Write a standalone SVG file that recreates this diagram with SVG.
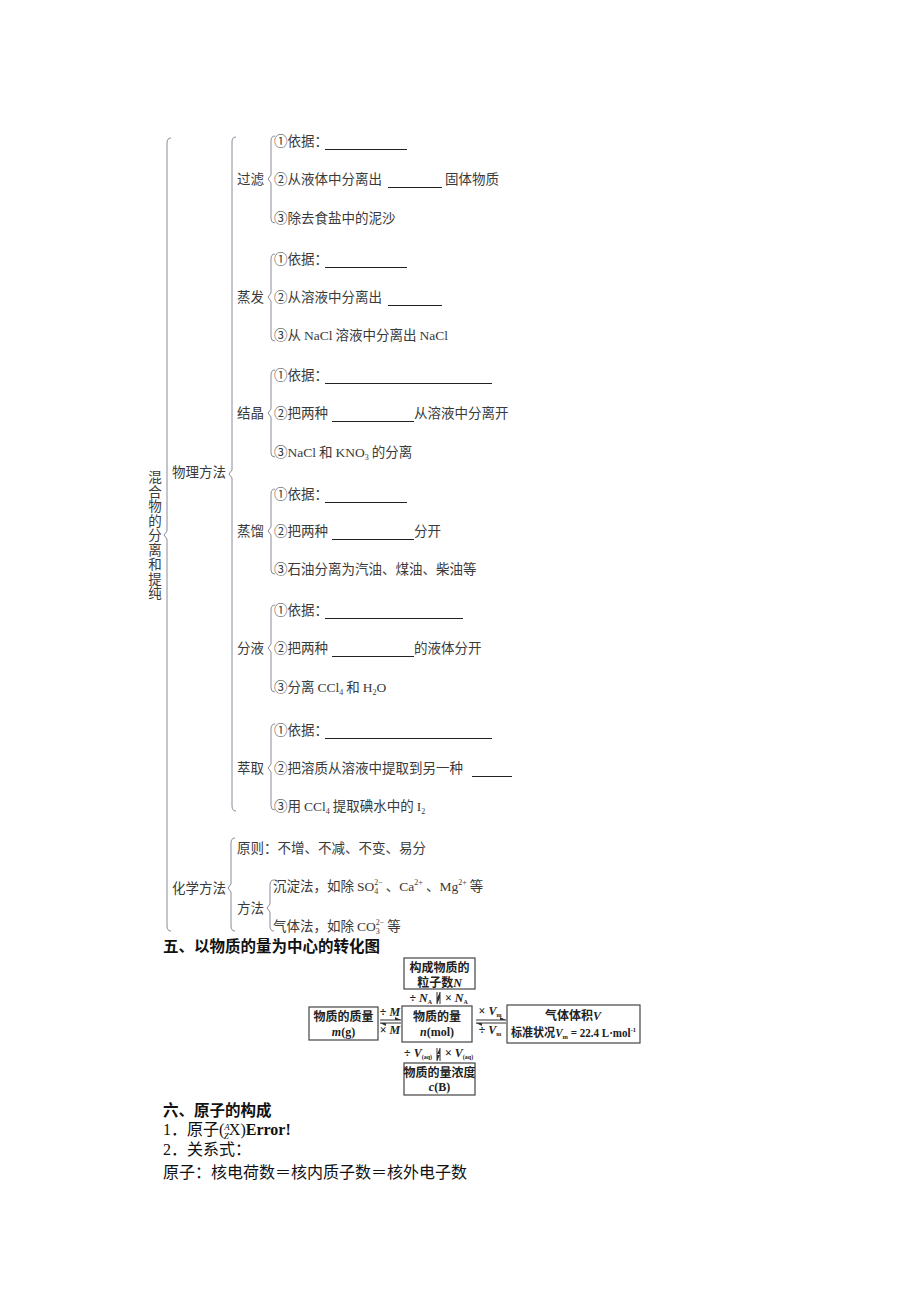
<svg xmlns="http://www.w3.org/2000/svg" width="920" height="1302" viewBox="0 0 920 1302">
<style>
.t{font-family:"Noto Sans CJK SC","Noto Sans",sans-serif;font-size:13.5px;fill:#3a3a3a}
.l{font-family:"Liberation Serif","Noto Sans CJK SC",serif}
.br{fill:none;stroke:#8a8a9a;stroke-width:1}
.ul{stroke:#222;stroke-width:1}
.h{font-family:"Noto Sans CJK SC",sans-serif;font-size:15.5px;font-weight:bold;fill:#111}
.s{font-family:"Liberation Serif","Noto Sans CJK SC",serif;font-size:16px;fill:#111}
.bx{fill:#fff;stroke:#444;stroke-width:1.2}
.b{font-family:"Liberation Serif","Noto Sans CJK SC",serif;font-size:12px;font-weight:bold;fill:#222}
.ar{stroke:#333;stroke-width:1;fill:none}
</style>
<defs>
<marker id="hr" markerWidth="6" markerHeight="4" refX="6" refY="3" orient="auto" markerUnits="userSpaceOnUse"><path d="M0,0 L6,3 L0,3 Z" fill="#333"/></marker>
</defs>

<g id="braces">
<path class="br" d="M171,138 Q167,138 167,143 L167,531 L164,535 L167,539 L167,926 Q167,931 171,931"/>
<path class="br" d="M236,137 Q232,137 232,142 L232,470 L229,474 L232,478 L232,806 Q232,811 236,811"/>
<path class="br" d="M275,136 Q271,136 271,141 L271,175 L268,179 L271,183 L271,219 Q271,223 275,223"/>
<path class="br" d="M275,254 Q271,254 271,259 L271,293 L268,297 L271,301 L271,337 Q271,341 275,341"/>
<path class="br" d="M275,370 Q271,370 271,375 L271,409 L268,413 L271,417 L271,453 Q271,457 275,457"/>
<path class="br" d="M275,489 Q271,489 271,494 L271,527 L268,531 L271,535 L271,570 Q271,574 275,574"/>
<path class="br" d="M275,605 Q271,605 271,610 L271,644 L268,648 L271,652 L271,688 Q271,692 275,692"/>
<path class="br" d="M275,724 Q271,724 271,729 L271,764 L268,768 L271,772 L271,806 Q271,810 275,810"/>
<path class="br" d="M235,838 Q231,838 231,843 L231,884 L228,888 L231,892 L231,926 Q231,931 235,931"/>
<path class="br" d="M274,880 Q270,880 270,885 L270,904 L267,908 L270,912 L270,926 Q270,931 274,931"/>
</g>

<g id="root">
<text class="t" text-anchor="middle">
<tspan x="155" y="482">混</tspan><tspan x="155" y="496.5">合</tspan><tspan x="155" y="511">物</tspan><tspan x="155" y="525.5">的</tspan><tspan x="155" y="540">分</tspan><tspan x="155" y="554.5">离</tspan><tspan x="155" y="569">和</tspan><tspan x="155" y="583.5">提</tspan><tspan x="155" y="598">纯</tspan>
</text>
</g>

<g id="physical">
<text class="t" x="172" y="477">物理方法</text>
</g>

<g id="guolv">
<text class="t" x="237" y="184">过滤</text>
<text class="t" x="274" y="146">①依据：</text><line class="ul" x1="325" y1="149.5" x2="407" y2="149.5"/>
<text class="t" x="274" y="184">②从液体中分离出</text><line class="ul" x1="388" y1="187.5" x2="442" y2="187.5"/><text class="t" x="445" y="184">固体物质</text>
<text class="t" x="274" y="223">③除去食盐中的泥沙</text>
</g>

<g id="zhengfa">
<text class="t" x="237" y="302">蒸发</text>
<text class="t" x="274" y="264">①依据：</text><line class="ul" x1="325" y1="267.5" x2="407" y2="267.5"/>
<text class="t" x="274" y="302">②从溶液中分离出</text><line class="ul" x1="388" y1="305.5" x2="442" y2="305.5"/>
<text class="t" x="274" y="340">③从 <tspan class="l">NaCl</tspan> 溶液中分离出 <tspan class="l">NaCl</tspan></text>
</g>

<g id="jiejing">
<text class="t" x="237" y="418">结晶</text>
<text class="t" x="274" y="380">①依据：</text><line class="ul" x1="325" y1="383.5" x2="492" y2="383.5"/>
<text class="t" x="274" y="418">②把两种</text><line class="ul" x1="332" y1="421.5" x2="414" y2="421.5"/><text class="t" x="414" y="418">从溶液中分离开</text>
<text class="t" x="274" y="457">③<tspan class="l">NaCl</tspan> 和 <tspan class="l">KNO</tspan><tspan class="l" font-size="8" dy="3">3</tspan><tspan dy="-3"> 的分离</tspan></text>
</g>

<g id="zhengliu">
<text class="t" x="237" y="536">蒸馏</text>
<text class="t" x="274" y="499">①依据：</text><line class="ul" x1="325" y1="502.5" x2="407" y2="502.5"/>
<text class="t" x="274" y="536">②把两种</text><line class="ul" x1="332" y1="539.5" x2="414" y2="539.5"/><text class="t" x="414" y="536">分开</text>
<text class="t" x="274" y="574">③石油分离为汽油、煤油、柴油等</text>
</g>

<g id="fenye">
<text class="t" x="237" y="653">分液</text>
<text class="t" x="274" y="615">①依据：</text><line class="ul" x1="325" y1="618.5" x2="463" y2="618.5"/>
<text class="t" x="274" y="653">②把两种</text><line class="ul" x1="332" y1="656.5" x2="414" y2="656.5"/><text class="t" x="414" y="653">的液体分开</text>
<text class="t" x="274" y="692">③分离 <tspan class="l">CCl</tspan><tspan class="l" font-size="8" dy="3">4</tspan><tspan dy="-3"> 和 </tspan><tspan class="l">H</tspan><tspan class="l" font-size="8" dy="3">2</tspan><tspan class="l" dy="-3">O</tspan></text>
</g>

<g id="cuiqu">
<text class="t" x="237" y="773">萃取</text>
<text class="t" x="274" y="735">①依据：</text><line class="ul" x1="325" y1="738.5" x2="492" y2="738.5"/>
<text class="t" x="274" y="773">②把溶质从溶液中提取到另一种</text><line class="ul" x1="472" y1="776.5" x2="512" y2="776.5"/>
<text class="t" x="274" y="811">③用 <tspan class="l">CCl</tspan><tspan class="l" font-size="8" dy="3">4</tspan><tspan dy="-3"> 提取碘水中的 </tspan><tspan class="l">I</tspan><tspan class="l" font-size="8" dy="3">2</tspan></text>
</g>

<g id="chemical">
<text class="t" x="172" y="893">化学方法</text>
<text class="t" x="237" y="853">原则：不增、不减、不变、易分</text>
<text class="t" x="237" y="913">方法</text>
<text class="t" x="273" y="891">沉淀法，如除 <tspan class="l">SO</tspan><tspan class="l" font-size="8" dy="3">4</tspan><tspan class="l" font-size="8" dx="-4" dy="-9">2−</tspan><tspan dy="6"> 、</tspan><tspan class="l">Ca</tspan><tspan class="l" font-size="8" dy="-6">2+</tspan><tspan dy="6"> 、</tspan><tspan class="l">Mg</tspan><tspan class="l" font-size="8" dy="-6">2+</tspan><tspan dy="6"> 等</tspan></text>
<text class="t" x="273" y="931">气体法，如除 <tspan class="l">CO</tspan><tspan class="l" font-size="8" dy="3">3</tspan><tspan class="l" font-size="8" dx="-4" dy="-9">2−</tspan><tspan dy="6"> 等</tspan></text>
</g>

<g id="heading5">
<text class="h" x="163" y="952">五、以物质的量为中心的转化图</text>
</g>

<g id="nodeN">
<rect class="bx" x="404" y="958" width="71" height="31"/>
<text class="b" x="439.5" y="972" text-anchor="middle">构成物质的</text>
<text class="b" x="439.5" y="987" text-anchor="middle">粒子数<tspan font-style="italic">N</tspan></text>
</g>
<g id="nodeM">
<rect class="bx" x="309" y="1007" width="69" height="33"/>
<text class="b" x="343.5" y="1021" text-anchor="middle">物质的质量</text>
<text class="b" x="343.5" y="1036" text-anchor="middle"><tspan font-style="italic">m</tspan>(g)</text>
</g>
<g id="nodeN2">
<rect class="bx" x="402" y="1006" width="70" height="36"/>
<text class="b" x="437" y="1021" text-anchor="middle">物质的量</text>
<text class="b" x="437" y="1036" text-anchor="middle"><tspan font-style="italic">n</tspan>(mol)</text>
</g>
<g id="nodeV">
<rect class="bx" x="507" y="1005" width="133" height="38"/>
<text class="b" x="573" y="1020" text-anchor="middle">气体体积<tspan font-style="italic">V</tspan></text>
<text class="b" x="511" y="1037" textLength="125" lengthAdjust="spacingAndGlyphs">标准状况<tspan font-style="italic">V</tspan><tspan font-size="7" dy="2">m</tspan><tspan dy="-2"> = 22.4 L·mol</tspan><tspan font-size="7" dy="-5">-1</tspan></text>
</g>
<g id="nodeC">
<rect class="bx" x="404" y="1063" width="71" height="32"/>
<text class="b" x="439.5" y="1077" text-anchor="middle">物质的量浓度</text>
<text class="b" x="439.5" y="1091" text-anchor="middle"><tspan font-style="italic">c</tspan>(B)</text>
</g>

<g id="connectors">
<line class="ar" x1="380" y1="1020" x2="401" y2="1020" marker-end="url(#hr)"/>
<line class="ar" x1="401" y1="1023" x2="380" y2="1023" marker-end="url(#hr)"/>
<line class="ar" x1="476" y1="1020" x2="506" y2="1020" marker-end="url(#hr)"/>
<line class="ar" x1="506" y1="1023" x2="476" y2="1023" marker-end="url(#hr)"/>
<line class="ar" x1="437" y1="992" x2="437" y2="1004" marker-end="url(#hr)"/>
<line class="ar" x1="440" y1="1004" x2="440" y2="992" marker-end="url(#hr)"/>
<line class="ar" x1="437" y1="1048" x2="437" y2="1061" marker-end="url(#hr)"/>
<line class="ar" x1="440" y1="1061" x2="440" y2="1048" marker-end="url(#hr)"/>
<text class="b" x="390" y="1016" text-anchor="middle">÷ <tspan font-style="italic">M</tspan></text>
<text class="b" x="390" y="1034" text-anchor="middle">× <tspan font-style="italic">M</tspan></text>
<text class="b" x="490" y="1015" text-anchor="middle">× <tspan font-style="italic">V</tspan><tspan font-size="6" dy="2">m</tspan></text>
<text class="b" x="490" y="1034" text-anchor="middle">÷ <tspan font-style="italic">V</tspan><tspan font-size="6" dy="2">m</tspan></text>
<text class="b" x="432" y="1002" text-anchor="end">÷ <tspan font-style="italic">N</tspan><tspan font-size="6" dy="2">A</tspan></text>
<text class="b" x="445" y="1002">× <tspan font-style="italic">N</tspan><tspan font-size="6" dy="2">A</tspan></text>
<text class="b" x="432" y="1057" text-anchor="end">÷ <tspan font-style="italic">V</tspan><tspan font-size="6" dy="2">(aq)</tspan></text>
<text class="b" x="445" y="1057">× <tspan font-style="italic">V</tspan><tspan font-size="6" dy="2">(aq)</tspan></text>
</g>

<g id="section6">
<text class="h" x="163" y="1116">六、原子的构成</text>
<text class="s" x="163" y="1135">1．原子(<tspan font-size="9" dy="-5" font-style="italic">A</tspan><tspan font-size="9" dy="9" dx="-6" font-style="italic">Z</tspan><tspan dy="-4">X)</tspan><tspan font-weight="bold">Error!</tspan></text>
<text class="s" x="163" y="1155">2．关系式：</text>
<text class="s" x="163" y="1178">原子：核电荷数＝核内质子数＝核外电子数</text>
</g>
</svg>
